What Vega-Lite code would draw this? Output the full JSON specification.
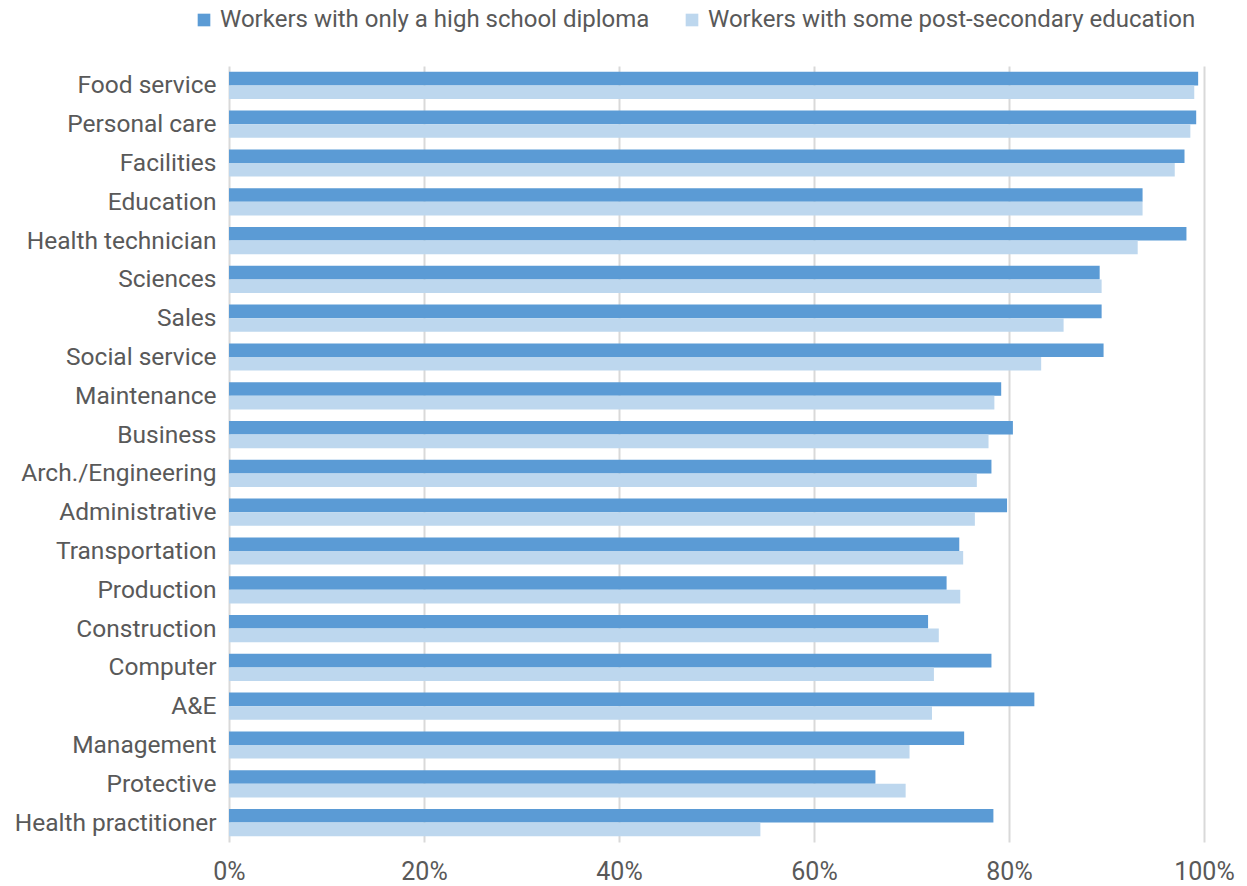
{
  "$schema": "https://vega.github.io/schema/vega-lite/v6.json",
  "autosize": {"type": "none"},
  "padding": {"left": 229, "top": 66, "right": 43, "bottom": 44},
  "width": 975,
  "height": 776,
  "background": "white",
  "config": {
    "view": {"stroke": null},
    "font": "Roboto",
    "text": {"font": "Roboto"}
  },
  "data": {
    "values": [
      {"occ": "Food service", "series": "Workers with only a high school diploma", "v": 99.4},
      {"occ": "Food service", "series": "Workers with some post-secondary education", "v": 99.0},
      {"occ": "Personal care", "series": "Workers with only a high school diploma", "v": 99.2},
      {"occ": "Personal care", "series": "Workers with some post-secondary education", "v": 98.6},
      {"occ": "Facilities", "series": "Workers with only a high school diploma", "v": 98.0},
      {"occ": "Facilities", "series": "Workers with some post-secondary education", "v": 97.0},
      {"occ": "Education", "series": "Workers with only a high school diploma", "v": 93.7},
      {"occ": "Education", "series": "Workers with some post-secondary education", "v": 93.7},
      {"occ": "Health technician", "series": "Workers with only a high school diploma", "v": 98.2},
      {"occ": "Health technician", "series": "Workers with some post-secondary education", "v": 93.2},
      {"occ": "Sciences", "series": "Workers with only a high school diploma", "v": 89.3},
      {"occ": "Sciences", "series": "Workers with some post-secondary education", "v": 89.5},
      {"occ": "Sales", "series": "Workers with only a high school diploma", "v": 89.5},
      {"occ": "Sales", "series": "Workers with some post-secondary education", "v": 85.6},
      {"occ": "Social service", "series": "Workers with only a high school diploma", "v": 89.7},
      {"occ": "Social service", "series": "Workers with some post-secondary education", "v": 83.3},
      {"occ": "Maintenance", "series": "Workers with only a high school diploma", "v": 79.2},
      {"occ": "Maintenance", "series": "Workers with some post-secondary education", "v": 78.5},
      {"occ": "Business", "series": "Workers with only a high school diploma", "v": 80.4},
      {"occ": "Business", "series": "Workers with some post-secondary education", "v": 77.9},
      {"occ": "Arch./Engineering", "series": "Workers with only a high school diploma", "v": 78.2},
      {"occ": "Arch./Engineering", "series": "Workers with some post-secondary education", "v": 76.7},
      {"occ": "Administrative", "series": "Workers with only a high school diploma", "v": 79.8},
      {"occ": "Administrative", "series": "Workers with some post-secondary education", "v": 76.5},
      {"occ": "Transportation", "series": "Workers with only a high school diploma", "v": 74.9},
      {"occ": "Transportation", "series": "Workers with some post-secondary education", "v": 75.3},
      {"occ": "Production", "series": "Workers with only a high school diploma", "v": 73.6},
      {"occ": "Production", "series": "Workers with some post-secondary education", "v": 75.0},
      {"occ": "Construction", "series": "Workers with only a high school diploma", "v": 71.7},
      {"occ": "Construction", "series": "Workers with some post-secondary education", "v": 72.8},
      {"occ": "Computer", "series": "Workers with only a high school diploma", "v": 78.2},
      {"occ": "Computer", "series": "Workers with some post-secondary education", "v": 72.3},
      {"occ": "A&E", "series": "Workers with only a high school diploma", "v": 82.6},
      {"occ": "A&E", "series": "Workers with some post-secondary education", "v": 72.1},
      {"occ": "Management", "series": "Workers with only a high school diploma", "v": 75.4},
      {"occ": "Management", "series": "Workers with some post-secondary education", "v": 69.8},
      {"occ": "Protective", "series": "Workers with only a high school diploma", "v": 66.3},
      {"occ": "Protective", "series": "Workers with some post-secondary education", "v": 69.4},
      {"occ": "Health practitioner", "series": "Workers with only a high school diploma", "v": 78.4},
      {"occ": "Health practitioner", "series": "Workers with some post-secondary education", "v": 54.5}
    ]
  },
  "mark": {"type": "bar"},
  "encoding": {
    "y": {
      "field": "occ",
      "type": "nominal",
      "sort": null,
      "scale": {"paddingInner": 0.3, "paddingOuter": 0.15},
      "axis": {
        "title": null,
        "ticks": false,
        "domain": false,
        "labelFontSize": 24.5,
        "labelColor": "#595959",
        "labelPadding": 13,
        "labelFont": "Roboto",
        "labelLimit": 300,
        "labelOffset": 1
      }
    },
    "yOffset": {
      "field": "series",
      "type": "nominal",
      "sort": ["Workers with only a high school diploma", "Workers with some post-secondary education"],
      "scale": {"paddingInner": 0, "paddingOuter": 0}
    },
    "x": {
      "field": "v",
      "type": "quantitative",
      "scale": {"domain": [0, 100], "nice": false},
      "axis": {
        "title": null,
        "values": [0, 20, 40, 60, 80, 100],
        "labelExpr": "datum.value + '%'",
        "ticks": false,
        "domain": false,
        "grid": true,
        "gridColor": "#D9D9D9",
        "gridWidth": 2,
        "labelFontSize": 25,
        "labelColor": "#595959",
        "labelPadding": 17,
        "labelFont": "Roboto",
        "labelFlush": false
      }
    },
    "color": {
      "field": "series",
      "type": "nominal",
      "sort": ["Workers with only a high school diploma", "Workers with some post-secondary education"],
      "scale": {
        "domain": ["Workers with only a high school diploma", "Workers with some post-secondary education"],
        "range": ["#5B9BD5", "#BDD7EE"]
      },
      "legend": {
        "title": null,
        "orient": "none",
        "direction": "horizontal",
        "legendX": -37,
        "legendY": -58,
        "symbolType": "square",
        "symbolSize": 160,
        "symbolStrokeWidth": 0,
        "labelFontSize": 24,
        "labelColor": "#595959",
        "labelFont": "Roboto",
        "labelLimit": 700,
        "columnPadding": 30,
        "labelOffset": 4
      }
    }
  }
}
